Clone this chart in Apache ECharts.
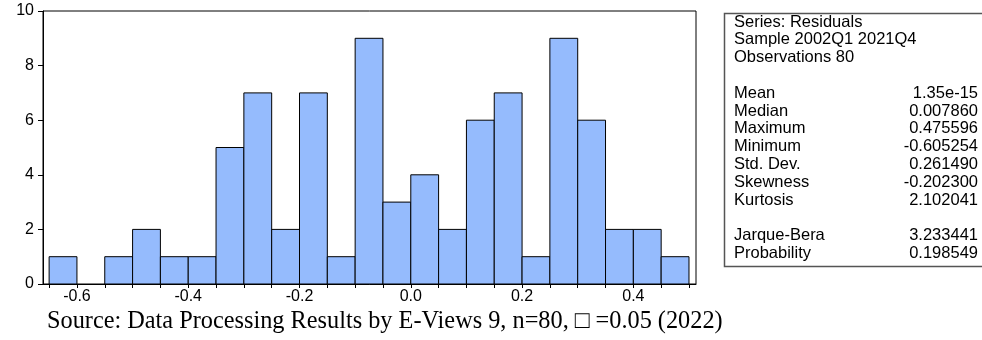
<!DOCTYPE html>
<html><head><meta charset="utf-8">
<script src="https://cdn.jsdelivr.net/npm/echarts@6/dist/echarts.min.js"></script>
<style>html,body{margin:0;padding:0;background:#fff}#c{width:982px;height:340px}</style>
</head><body><div id="c"></div>
<script>
// Histogram bins (edges) and counts
const binEdges = [-0.65,-0.60,-0.55,-0.50,-0.45,-0.40,-0.35,-0.30,-0.25,-0.20,-0.15,-0.10,-0.05,0.00,0.05,0.10,0.15,0.20,0.25,0.30,0.35,0.40,0.45,0.50];
const counts = [1,0,1,2,1,1,5,7,2,7,1,9,3,4,2,6,7,1,9,6,2,2,1];
const xTickLabels = [-0.6,-0.4,-0.2,0.0,0.2,0.4];
const yTickLabels = [0,2,4,6,8,10];
const headerLines = ["Series: Residuals","Sample 2002Q1 2021Q4","Observations 80"];
const statNames = ["Mean","Median","Maximum","Minimum","Std. Dev.","Skewness","Kurtosis"];
const statValues = ["1.35e-15","0.007860","0.475596","-0.605254","0.261490","-0.202300","2.102041"];
const testNames = ["Jarque-Bera","Probability"];
const testValues = ["3.233441","0.198549"];
const sourceNote = "Source: Data Processing Results by E-Views 9, n=80, \u25A1 =0.05 (2022)";

const data = counts.map((c,i)=>[binEdges[i], binEdges[i+1], c]);
const chart = echarts.init(document.getElementById('c'));

const SANS = 'Liberation Sans, Arial, sans-serif';
const SF = '16.5px ' + SANS;
const graphics = [];
graphics.push({type:'rect', left:722, top:11, shape:{x:0,y:0,width:259,height:253}, style:{fill:'none', stroke:'#555', lineWidth:1.5}, silent:true});
const lh = 17.8;
let y0 = 22;
headerLines.forEach((t,i)=>{
  graphics.push({type:'text', x:734, y:y0+i*lh, style:{text:t, font:SF, fill:'#000', textVerticalAlign:'middle'}});
});
let ys = y0 + 4*lh;
statNames.forEach((t,i)=>{
  graphics.push({type:'text', x:734, y:ys+i*lh, style:{text:t, font:SF, fill:'#000', textVerticalAlign:'middle'}});
  graphics.push({type:'text', x:978, y:ys+i*lh, style:{text:statValues[i], font:SF, fill:'#000', textAlign:'right', textVerticalAlign:'middle'}});
});
let yt = ys + (statNames.length+1)*lh;
testNames.forEach((t,i)=>{
  graphics.push({type:'text', x:734, y:yt+i*lh, style:{text:t, font:SF, fill:'#000', textVerticalAlign:'middle'}});
  graphics.push({type:'text', x:978, y:yt+i*lh, style:{text:testValues[i], font:SF, fill:'#000', textAlign:'right', textVerticalAlign:'middle'}});
});
graphics.push({type:'text', x:47, y:322, style:{text:sourceNote, font:'24.3px Liberation Serif, Times New Roman, serif', fill:'#000', textVerticalAlign:'middle'}});

chart.setOption({
  animation:false,
  backgroundColor:'#fff',
  grid:{left:43, right:286, top:11, bottom:56, show:true, borderColor:'#000', borderWidth:1, backgroundColor:'transparent'},
  xAxis:{
    type:'value', min:-0.661, max:0.5126,
    axisLine:{show:true, onZero:false, lineStyle:{color:'#000', width:1}},
    axisTick:{show:true, customValues:binEdges, length:4, lineStyle:{color:'#000'}},
    axisLabel:{customValues:xTickLabels, formatter:v=>Number(v).toFixed(1), fontSize:16, color:'#000', margin:5, fontFamily:SANS},
    splitLine:{show:false}
  },
  yAxis:{
    type:'value', min:0, max:10,
    axisLine:{show:true, onZero:false, lineStyle:{color:'#000', width:1}},
    axisTick:{show:true, customValues:yTickLabels, length:5, lineStyle:{color:'#000'}},
    axisLabel:{customValues:yTickLabels, fontSize:16, color:'#000', margin:9, fontFamily:SANS},
    splitLine:{show:false}
  },
  series:[{
    type:'custom',
    data:data,
    encode:{x:[0,1], y:2},
    clip:false,
    renderItem:function(params, api){
      const c = api.value(2);
      if(!c) return null;
      const p0 = api.coord([api.value(0), c]);
      const p1 = api.coord([api.value(1), 0]);
      return {type:'rect', shape:{x:p0[0], y:p0[1], width:p1[0]-p0[0], height:p1[1]-p0[1]},
        style:{fill:'#95bbfd', stroke:'#000', lineWidth:1}};
    }
  }],
  graphic:graphics
});
</script>
</body></html>
